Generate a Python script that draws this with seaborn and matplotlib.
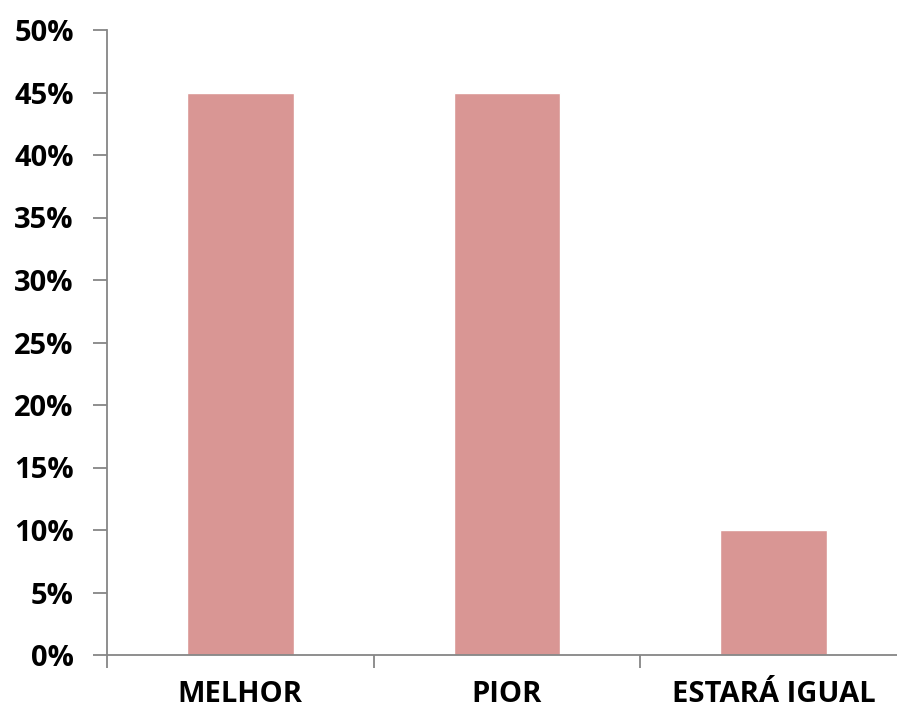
import matplotlib
matplotlib.use("Agg")
import matplotlib.pyplot as plt
import seaborn as sns
import pandas as pd
from matplotlib.ticker import FuncFormatter, MultipleLocator, FixedLocator

categories = ["MELHOR", "PIOR", "ESTARÁ IGUAL"]
percentages = [45, 45, 10]

sns.set_style("white")
plt.rcParams['font.family'] = ['Open Sans', 'DejaVu Sans']

df = pd.DataFrame({"categoria": categories, "valor": percentages})

fig = plt.figure(figsize=(8.97, 7.11), dpi=100)
# axis runs off the right edge, like the original
ax = fig.add_axes([107 / 897, 56 / 711, 800 / 897, 625 / 711])

sns.barplot(data=df, x="categoria", y="valor", color="#D99694", width=0.4,
            saturation=1, ax=ax)

ax.set_ylim(0, 50)
ax.set_xlim(-0.5, 2.5)
ax.yaxis.set_major_locator(MultipleLocator(5))
ax.yaxis.set_major_formatter(FuncFormatter(lambda v, p: f"{v:.0f}%"))
ax.xaxis.set_major_locator(FixedLocator([0, 1, 2]))
ax.xaxis.set_minor_locator(FixedLocator([-0.5, 0.5, 1.5, 2.5]))

for s in ["top", "right"]:
    ax.spines[s].set_visible(False)
for s in ["left", "bottom"]:
    ax.spines[s].set_color("#868686")
    ax.spines[s].set_linewidth(1.3)

ax.tick_params(axis="y", which="major", direction="out", length=10, width=1.3,
               color="#868686", labelsize=21, pad=14, labelcolor="black")
ax.tick_params(axis="x", which="major", length=0, labelsize=21, pad=18,
               labelcolor="black")
ax.tick_params(axis="x", which="minor", direction="out", length=9, width=1.3,
               color="#868686")
ax.tick_params(left=True, bottom=True)
ax.xaxis.set_tick_params(which="minor", bottom=True)
for lab in ax.get_xticklabels() + ax.get_yticklabels():
    lab.set_fontweight("bold")

ax.set_xlabel("")
ax.set_ylabel("")
ax.grid(False)

fig.savefig("out.png", dpi=100)
